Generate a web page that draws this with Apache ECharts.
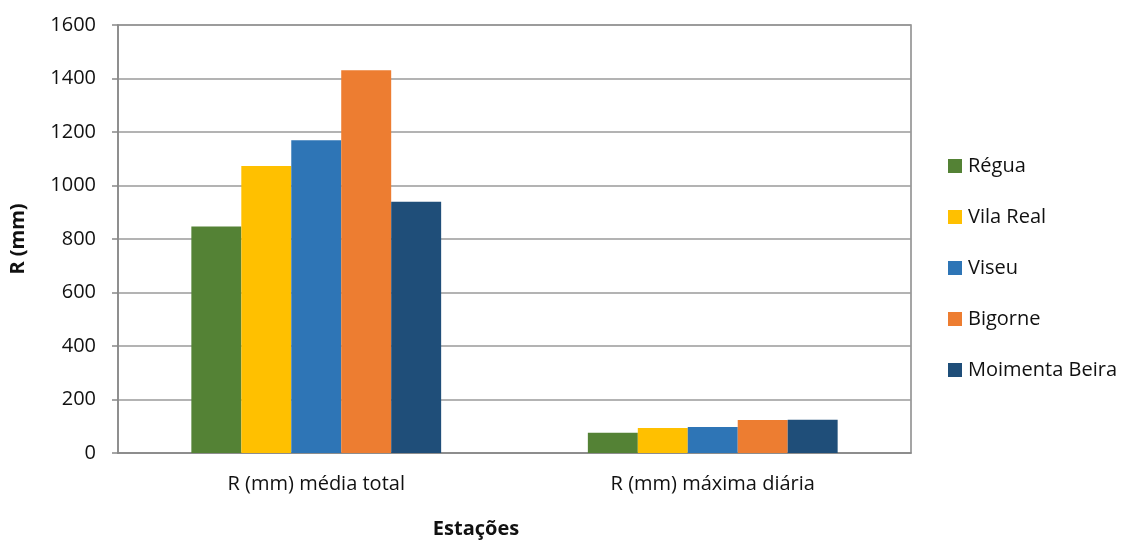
<!DOCTYPE html>
<html>
<head>
<meta charset="utf-8">
<script src="https://cdn.jsdelivr.net/npm/echarts@6/dist/echarts.min.js"></script>
<style>
  html, body { margin: 0; padding: 0; background: #fff; }
  #chart { width: 1128px; height: 541px; }
</style>
</head>
<body>
<div id="chart"></div>
<script>
// Precipitation (mm) per station: mean total and daily maximum
const categories = ['R (mm) média total', 'R (mm) máxima diária'];
const stations = ['Régua', 'Vila Real', 'Viseu', 'Bigorne', 'Moimenta Beira'];
const regua = [847, 76];
const vilaReal = [1073, 93];
const viseu = [1169, 97];
const bigorne = [1431, 123];
const moimentaBeira = [939, 124];
const yTicks = { min: 0, max: 1600, interval: 200 };

const seriesValues = [regua, vilaReal, viseu, bigorne, moimentaBeira];
const colors = ['#548235', '#FFC000', '#2E75B6', '#ED7D31', '#1F4E79'];
const FONT = '"Open Sans", sans-serif';
const TEXT = '#111111';

const chart = echarts.init(document.getElementById('chart'), null, { renderer: 'canvas' });

chart.setOption({
  animation: false,
  backgroundColor: '#ffffff',
  grid: {
    left: 112, right: 217, top: 25, bottom: 88,
    show: true, borderColor: '#888888', borderWidth: 1.5, backgroundColor: 'transparent'
  },
  legend: {
    orient: 'vertical',
    left: 943, top: 151,
    itemWidth: 14, itemHeight: 14, itemGap: 31,
    icon: 'rect',
    data: stations,
    textStyle: { fontFamily: FONT, fontSize: 20, color: TEXT, lineHeight: 20, padding: [0, 0, 0, 1] }
  },
  xAxis: {
    type: 'category',
    data: categories,
    axisLine: { show: true, lineStyle: { color: '#888888', width: 1.5 } },
    axisTick: { show: false },
    axisLabel: { fontFamily: FONT, fontSize: 20, color: TEXT, margin: 21 }
  },
  yAxis: {
    type: 'value',
    min: yTicks.min, max: yTicks.max, interval: yTicks.interval,
    name: 'R (mm)',
    nameLocation: 'middle',
    nameRotate: 90,
    nameGap: 90,
    nameTextStyle: { fontFamily: FONT, fontSize: 20, fontWeight: 'bold', color: TEXT },
    axisLine: { show: true, lineStyle: { color: '#888888', width: 1.5 } },
    axisTick: { show: true, length: 6, lineStyle: { color: '#888888', width: 1.5 } },
    axisLabel: {
      fontFamily: FONT, fontSize: 20, color: TEXT, margin: 22,
      formatter: (v) => String(v)
    },
    splitLine: { show: true, lineStyle: { color: '#9a9a9a', width: 1.5 } }
  },
  graphic: [{
    type: 'text',
    x: 476, y: 529,
    style: {
      text: 'Estações',
      font: 'bold 20px ' + FONT,
      fill: TEXT,
      align: 'center',
      verticalAlign: 'middle'
    }
  }],
  series: stations.map((name, i) => ({
    name: name,
    type: 'bar',
    data: seriesValues[i],
    barGap: '0%',
    barCategoryGap: '37%',
    itemStyle: { color: colors[i] }
  }))
});
</script>
</body>
</html>
